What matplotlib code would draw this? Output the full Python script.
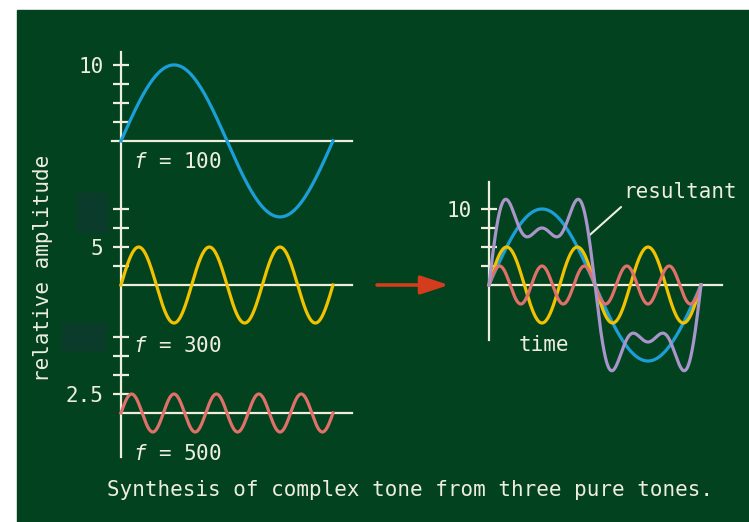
import numpy as np
import matplotlib
matplotlib.use('Agg')
import matplotlib.pyplot as plt
from matplotlib.patches import Rectangle
from matplotlib.ticker import FixedLocator, FixedFormatter

plt.rcParams['font.family'] = ['DejaVu Sans Mono']
plt.rcParams['mathtext.fontset'] = 'custom'
plt.rcParams['mathtext.it'] = 'DejaVu Sans Mono:italic'
plt.rcParams['mathtext.rm'] = 'DejaVu Sans Mono'

# three pure tones
freqs = [100, 300, 500]          # Hz
amps = [10, 5, 2.5]              # relative amplitude
tone_labels = ['$f$ = 100', '$f$ = 300', '$f$ = 500']
tick_names = ['10', '5', '2.5']
colors = ['#1c9fd8', '#f2c200', '#e0706a']
resultant_color = '#a895c9'
period_ms = 10                   # one period of the 100 Hz tone

bg = '#03421f'
fg = '#eeeedd'
W, H = 749, 522

fig = plt.figure(figsize=(W / 100, H / 100), dpi=100)
fig.patch.set_facecolor('white')
fig.add_artist(Rectangle((17 / W, 0), (W - 17) / W, (H - 10) / H,
                         transform=fig.transFigure, color=bg, zorder=0))
# darker blotches in the panel
for x0, y0, w, h in [(77, 193, 30, 39), (62, 323, 43, 27)]:
    fig.add_artist(Rectangle((x0 / W, (H - y0 - h) / H), w / W, h / H,
                             transform=fig.transFigure, color='#0a3b2b', zorder=0.5))

PX_X = 21.2   # pixels per ms
PX_Y = 7.6    # pixels per amplitude unit


def make_axes(ox, oy, xlim, ylim):
    # axes whose data origin sits at pixel (ox, oy), measured from top-left
    left = ox + xlim[0] * PX_X
    right = ox + xlim[1] * PX_X
    top = oy - ylim[1] * PX_Y
    bottom = oy - ylim[0] * PX_Y
    ax = fig.add_axes([left / W, (H - bottom) / H, (right - left) / W, (bottom - top) / H])
    ax.set_xlim(xlim)
    ax.set_ylim(ylim)
    ax.patch.set_alpha(0)
    for s in ['top', 'right', 'bottom']:
        ax.spines[s].set_visible(False)
    ax.spines['left'].set_position(('data', 0))
    ax.spines['left'].set_color(fg)
    ax.spines['left'].set_linewidth(1.6)
    ax.set_xticks([])
    ax.tick_params(axis='y', direction='inout', length=11.5, width=1.6,
                   color=fg, labelcolor=fg, labelsize=15, pad=7)
    return ax


t = np.linspace(0, period_ms, 600)
waves = [a * np.sin(2 * np.pi * f * t / 1000) for f, a in zip(freqs, amps)]
resultant = np.sum(waves, axis=0)

# left: the three tones stacked
offsets = [35.8, 16.84, 0]
ax = make_axes(121, 413, (-1.5, 12), (-8, 50))
ax.spines['left'].set_bounds(-5.8, 47.5)
ticks, labels = [], []
for off, name, a in zip(offsets, tick_names, amps):
    for k in range(1, 5):
        ticks.append(off + 2.5 * k)
        labels.append(name if 2.5 * k == a else '')
ax.yaxis.set_major_locator(FixedLocator(ticks))
ax.yaxis.set_major_formatter(FixedFormatter(labels))

label_y = [-2.76, -8.0, -5.4]
for i, (off, wave) in enumerate(zip(offsets, waves)):
    x0 = -0.42 if i == 0 else 0
    ax.plot([x0, 10.9], [off, off], color=fg, lw=1.6, zorder=2)
    ax.plot(t, wave + off, color=colors[i], lw=2.3, zorder=3)
    ax.text(0.57, off + label_y[i], tone_labels[i], color=fg, fontsize=15,
            va='center', ha='left')

# right: tones together with their sum
ax2 = make_axes(489, 285, (-1.5, 12.5), (-14, 16))
ax2.spines['left'].set_bounds(-7.24, 13.55)
ax2.yaxis.set_major_locator(FixedLocator([2.5, 5, 7.5, 10]))
ax2.yaxis.set_major_formatter(FixedFormatter(['', '', '', '10']))
ax2.plot([0, 11.0], [0, 0], color=fg, lw=1.6, zorder=2)
for wave, c in zip(waves, colors):
    ax2.plot(t, wave, color=c, lw=2.3, zorder=3)
ax2.plot(t, resultant, color=resultant_color, lw=2.3, zorder=4)

ax2.text(1.42, -7.9, 'time', color=fg, fontsize=15, va='center', ha='left')
ax2.text(6.32, 12.24, 'resultant', color=fg, fontsize=15, va='center', ha='left')
ax2.annotate('', xy=(4.72, 6.5), xytext=(6.23, 10.26),
             arrowprops=dict(arrowstyle='-', color=fg, lw=1.5, shrinkA=0, shrinkB=0))
ax2.annotate('', xy=(-1.89, 0), xytext=(-5.28, 0), annotation_clip=False,
             arrowprops=dict(arrowstyle='-|>,head_length=0.85,head_width=0.28',
                             mutation_scale=20, color='#d33c1c', lw=2.6,
                             shrinkA=0, shrinkB=0))

fig.text(43 / W, 1 - 268 / H, 'relative amplitude', color=fg, fontsize=15,
         rotation=90, ha='center', va='center')
fig.text(107 / W, 1 - 490 / H, 'Synthesis of complex tone from three pure tones.',
         color=fg, fontsize=15, ha='left', va='center')

fig.savefig('out.png', dpi=100, facecolor=fig.get_facecolor())
